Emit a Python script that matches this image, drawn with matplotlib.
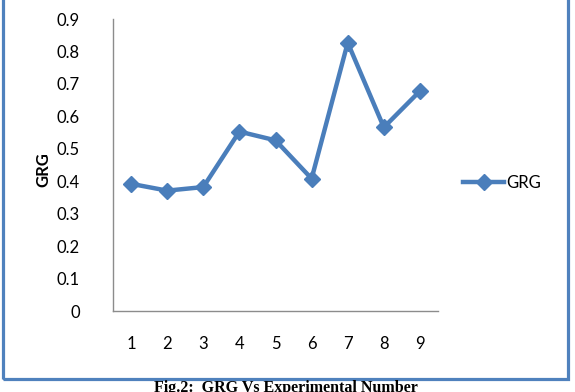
import matplotlib.pyplot as plt
from matplotlib.patches import Rectangle

# experiment numbers and grey relational grade
experiments = ['1', '2', '3', '4', '5', '6', '7', '8', '9']
grg = [0.392, 0.371, 0.382, 0.553, 0.526, 0.408, 0.827, 0.566, 0.678]
y_ticks = [0, 0.1, 0.2, 0.3, 0.4, 0.5, 0.6, 0.7, 0.8, 0.9]
y_labels = ['0', '0.1', '0.2', '0.3', '0.4', '0.5', '0.6', '0.7', '0.8', '0.9']


def main():
    plt.rcParams['font.family'] = ['Lato', 'DejaVu Sans']
    W, H = 575, 392
    fig = plt.figure(figsize=(W / 100, H / 100), dpi=100)

    # axes box in pixel terms: x 113..438, y 19..311
    ax = fig.add_axes([113 / W, 1 - 311 / H, (438 - 113) / W, (311 - 19) / H])
    x = list(range(len(experiments)))
    ax.plot(x, grg, color='#4A7EBB', linewidth=3.2, marker='D',
            markersize=8, label='GRG')
    ax.set_xlim(-0.5, len(experiments) - 0.5)
    ax.set_ylim(0, 0.9)
    ax.set_xticks(x)
    ax.set_xticklabels(experiments)
    ax.set_yticks(y_ticks)
    ax.set_yticklabels(y_labels)
    ax.tick_params(length=0, labelsize=12, colors='black')
    ax.tick_params(axis='x', pad=18)
    ax.tick_params(axis='y', pad=24)
    for s in ['top', 'right']:
        ax.spines[s].set_visible(False)
    for s in ['left', 'bottom']:
        ax.spines[s].set_color('#8C8C8C')
        ax.spines[s].set_linewidth(1)
    ax.set_ylabel('GRG', fontsize=12, fontweight='bold')
    ax.yaxis.set_label_coords(-0.19, 0.483)

    ax.legend(loc='center left', bbox_to_anchor=(1.03, 0.44), frameon=False,
              fontsize=12, handlelength=2.5, handletextpad=0.1)

    # outer blue chart border
    fig.patches.append(Rectangle((3 / W, 1 - 379 / H), 565 / W, 379 / H + 0.05,
                                 transform=fig.transFigure, fill=False,
                                 edgecolor='#4F81BD', linewidth=2.3))

    fig.text(0.497, 1 - 380 / H, 'Fig.2:  GRG Vs Experimental Number',
             ha='center', va='top', fontsize=11.5, fontweight='bold',
             family='Liberation Serif')

    fig.savefig('out.png', dpi=100)


if __name__ == '__main__':
    main()
